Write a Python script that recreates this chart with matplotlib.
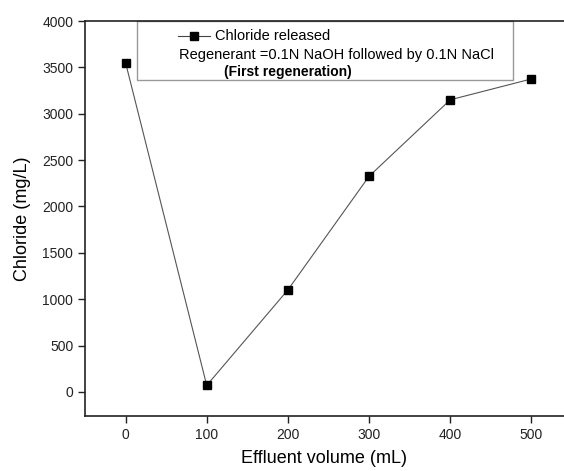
import matplotlib
matplotlib.use('Agg')
import matplotlib.pyplot as plt
from matplotlib.patches import Rectangle

# data
volume = [0, 100, 200, 300, 400, 500]
chloride = [3550, 70, 1100, 2325, 3150, 3375]
x_ticks = [0, 100, 200, 300, 400, 500]
y_ticks = [0, 500, 1000, 1500, 2000, 2500, 3000, 3500, 4000]

plt.rcParams['font.family'] = ['Liberation Sans', 'DejaVu Sans']

fig = plt.figure(figsize=(5.64, 4.71), dpi=100)
ax = fig.add_axes([0.1507, 0.1168, 0.849, 0.8386])

ax.plot(volume, chloride, '-', color='#555555', lw=0.8,
        marker='s', ms=6, mfc='black', mec='black')

ax.set_xlim(-50, 540)
ax.set_ylim(-260, 4000)
ax.set_xticks(x_ticks)
ax.set_yticks(y_ticks)
ax.spines['right'].set_visible(False)
for s in ['left', 'bottom', 'top']:
    ax.spines[s].set_linewidth(1.2)
    ax.spines[s].set_color('#222222')
ax.tick_params(direction='out', length=5, width=1, labelsize=10, colors='#222222')
ax.tick_params(top=False, right=False)

ax.set_xlabel('Effluent volume (mL)', fontsize=13, labelpad=6)
ax.set_ylabel('Chloride (mg/L)', fontsize=13, labelpad=8)

# legend box drawn by hand
box = Rectangle((0.1086, 0.8506), 0.785, 0.1494, transform=ax.transAxes,
                fill=False, edgecolor='#999999', lw=1.0, clip_on=False)
ax.add_patch(box)
ax.plot([0.194, 0.261], [0.962, 0.962], transform=ax.transAxes, color='#444444', lw=0.8,
        clip_on=False)
ax.plot([0.2275], [0.962], transform=ax.transAxes, marker='s', ms=6, color='black',
        clip_on=False)
ax.text(0.272, 0.962, 'Chloride released', transform=ax.transAxes,
        fontsize=10.5, va='center', ha='left')
ax.text(0.196, 0.914, 'Regenerant =0.1N NaOH followed by 0.1N NaCl', transform=ax.transAxes,
        fontsize=10.5, va='center', ha='left')
ax.text(0.290, 0.871, '(First regeneration)', transform=ax.transAxes,
        fontsize=10, va='center', ha='left', fontweight='bold')

fig.savefig('out.png', dpi=100)
